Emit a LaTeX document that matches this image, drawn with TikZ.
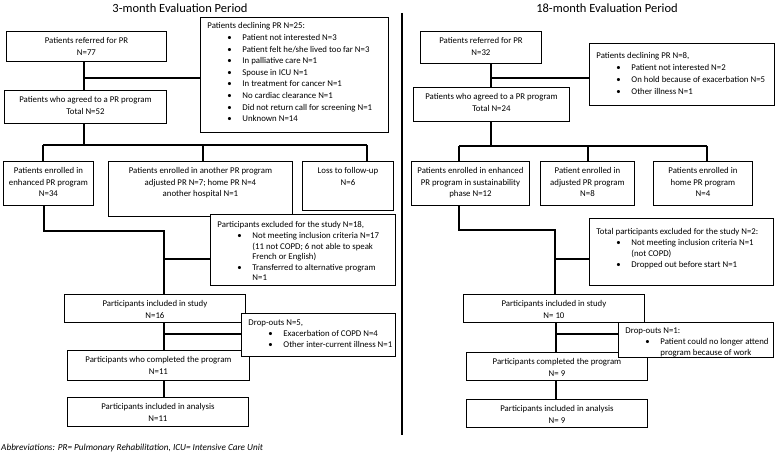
\documentclass[tikz,border=0pt]{standalone}
\usepackage{fontspec}
\setmainfont{Carlito}
\newcommand\bx[6]{\node[bx,anchor=north west] (#1) at (#2,#3) {\parbox[c][\dimexpr#5pt-#3pt\relax][t]{\dimexpr#4pt-#2pt\relax}{\centering\rule{0pt}{12.5pt}#6\par}};}
\newcommand\lbx[8]{\node[bx,anchor=north west] (#1) at (#2,#3) {\parbox[c][\dimexpr#5pt-#3pt\relax][t]{\dimexpr#4pt-#2pt\relax}{\raggedright\setlength\baselineskip{#7pt}\rule{0pt}{#6pt}#8}};}
\newcommand\hd[1]{\hspace*{7pt}#1\par}
\newcommand\bl[1]{\hspace*{27pt}\makebox[15pt][l]{\textbullet}#1\par}
\newcommand\bc[1]{\hspace*{42pt}#1\par}
\begin{document}
\begin{tikzpicture}[x=1pt,y=-1pt,
  bx/.style={draw=black, fill=white, line width=0.9pt, inner sep=0pt, font=\fontsize{8.8}{11.5}\selectfont},
  conn/.style={line width=1.5pt},
  divider/.style={line width=1.1pt},
  title/.style={font=\fontsize{12.5}{14}\selectfont},
  note/.style={anchor=west, inner sep=0pt, font=\fontsize{9.2}{11}\selectfont\itshape}]
\useasboundingbox (0,0) rectangle (777,462);

% ---------- left: 3-month ----------
\node[title] (t1) at (180,8) {3-month Evaluation Period};
\bx{a1}{6}{31}{166}{61}{Patients referred for PR\\N=77}
\lbx{d1}{200}{17}{388}{132}{11.5}{11.6}{%
\hd{Patients declining PR N=25:}
\bl{Patient not interested N=3}
\bl{Patient felt he/she lived too far N=3}
\bl{In palliative care N=1}
\bl{Spouse in ICU N=1}
\bl{In treatment for cancer N=1}
\bl{No cardiac clearance N=1}
\bl{Did not return call for screening N=1}
\bl{Unknown N=14}}
\bx{a2}{4}{90}{166}{123}{Patients who agreed to a PR program\\Total N=52}
\bx{b1}{3}{161}{93}{205}{Patients enrolled in\\enhanced PR program\\N=34}
\bx{b2}{108}{161}{292}{216}{Patients enrolled in another PR program\\adjusted PR N=7; home PR N=4\\another hospital N=1}
\bx{b3}{302}{161}{393}{210}{Loss to follow-up\\N=6}
\lbx{e1}{210}{214}{395}{285}{13.5}{10.6}{%
\hd{Participants excluded for the study N=18,}
\bl{Not meeting inclusion criteria N=17}
\bc{(11 not COPD; 6 not able to speak}
\bc{French or English)}
\bl{Transferred to alternative program}
\bc{N=1}}
\bx{c1}{64}{294}{245}{322}{Participants included in study\\N=16}
\bx{c2}{67}{350}{249}{380}{Participants who completed the program\\N=11}
\bx{c3}{67}{397}{248}{426}{Participants included in analysis\\N=11}
\lbx{f1}{241}{313}{395}{356}{12.5}{10.6}{%
\hd{Drop-outs N=5,}
\bl{Exacerbation of COPD N=4}
\bl{Other inter-current illness N=1}}

\coordinate (j1) at (84,78);
\coordinate (h1l) at (43,145);
\coordinate (h1m) at (203,145);
\coordinate (h1r) at (367,145);
\coordinate (k1) at (44,231);
\coordinate (k2) at (164,231);
\coordinate (k3) at (164,259);
\coordinate (k5) at (164,334);
\draw[conn] (j1 |- a1.south) -- (j1 |- a2.north);
\draw[conn] (j1) -- (j1 -| d1.west);
\draw[conn] (j1 |- a2.south) -- (j1 |- h1l);
\draw[conn] (h1l) -- (h1r);
\draw[conn] (h1l) -- (h1l |- b1.north);
\draw[conn] (h1m) -- (h1m |- b2.north);
\draw[conn] (h1r) -- (h1r |- b3.north);
\draw[conn] (k1 |- b1.south) -- (k1) -- (k2) -- (k2 |- c1.north);
\draw[conn] (k3) -- (k3 -| e1.west);
\draw[conn] (k5 |- c1.south) -- (k5 |- c2.north);
\draw[conn] (k5) -- (k5 -| f1.west);
\draw[conn] (k5 |- c2.south) -- (k5 |- c3.north);

% ---------- divider ----------
\coordinate (dv1) at (402,13);
\coordinate (dv2) at (402,435);
\draw[divider] (dv1) -- (dv2);

% ---------- right: 18-month ----------
\node[title] (t2) at (607,8) {18-month Evaluation Period};
\bx{ra1}{420}{31}{541}{63}{Patients referred for PR\\N=32}
\lbx{rd1}{589}{43}{774}{105}{15.5}{12}{%
\hd{Patients declining PR N=8,}
\bl{Patient not interested N=2}
\bl{On hold because of exacerbation N=5}
\bl{Other illness N=1}}
\bx{ra2}{413}{87}{569}{121}{Patients who agreed to a PR program\\Total N=24}
\bx{rb1}{411}{161}{529}{205}{Patients enrolled in enhanced\\PR program in sustainability\\phase N=12}
\bx{rb2}{540}{161}{634}{205}{Patient enrolled in\\adjusted PR program\\N=8}
\bx{rb3}{653}{161}{752}{205}{Patients enrolled in\\home PR program\\N=4}
\lbx{re1}{589}{218}{773}{285}{16.5}{11}{%
\hd{Total participants excluded for the study N=2:}
\bl{Not meeting inclusion criteria N=1}
\bc{(not COPD)}
\bl{Dropped out before start N=1}}
\bx{rc1}{463}{294}{644}{322}{Participants included in study\\N= 10}
\bx{rc2}{466}{352}{647}{380}{Participants completed the program\\N= 9}
\bx{rc3}{466}{399}{647}{427}{Participants included in analysis\\N= 9}
\lbx{rf1}{618}{322}{773}{357}{11}{11}{%
\hd{Drop-outs N=1:}
\bl{Patient could no longer attend}
\bc{program because of work}}

\coordinate (r1) at (491,78);
\coordinate (rh1) at (459,146);
\coordinate (rh2) at (588,146);
\coordinate (rh3) at (707,146);
\coordinate (rk1) at (459,230);
\coordinate (rk2) at (555,230);
\coordinate (rk3) at (555,259);
\coordinate (rk5) at (556,334);
\draw[conn] (r1 |- ra1.south) -- (r1 |- ra2.north);
\draw[conn] (r1) -- (r1 -| rd1.west);
\draw[conn] (r1 |- ra2.south) -- (r1 |- rh1);
\draw[conn] (rh1) -- (rh3);
\draw[conn] (rh1) -- (rh1 |- rb1.north);
\draw[conn] (rh2) -- (rh2 |- rb2.north);
\draw[conn] (rh3) -- (rh3 |- rb3.north);
\draw[conn] (rk1 |- rb1.south) -- (rk1) -- (rk2) -- (rk2 |- rc1.north);
\draw[conn] (rk3) -- (rk3 -| re1.west);
\draw[conn] (rk5 |- rc1.south) -- (rk5 |- rc2.north);
\draw[conn] (rk5) -- (rk5 -| rf1.west);
\draw[conn] (rk5 |- rc2.south) -- (rk5 |- rc3.north);

\node[note] (abbr) at (1,448) {Abbreviations: PR= Pulmonary Rehabilitation, ICU= Intensive Care Unit};
\end{tikzpicture}
\end{document}
